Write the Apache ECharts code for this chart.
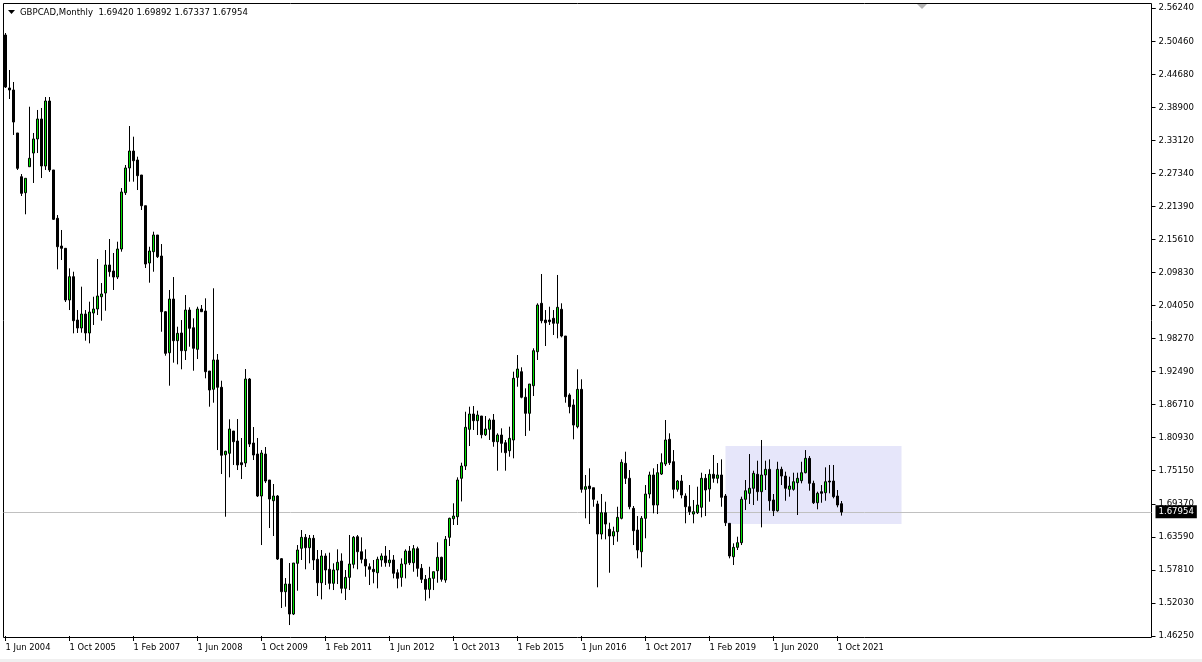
<!DOCTYPE html>
<html>
<head>
<meta charset="utf-8">
<script src="https://cdn.jsdelivr.net/npm/echarts@6/dist/echarts.min.js"></script>
<style>
html,body{margin:0;padding:0;background:#ffffff;}
#c{width:1202px;height:662px;}
</style>
</head>
<body>
<div id="c"></div>
<script>
// ---------------- DATA ----------------
const symbolTitle = 'GBPCAD,Monthly';
const lastBar = ['1.69420', '1.69892', '1.67337', '1.67954'];
const startYear = 2004;
const startMonth = 5; // June (0-based)
const totalSlots = 287; // monthly slots visible across the chart width (incl. empty future area)
const monthNames = ['Jan','Feb','Mar','Apr','May','Jun','Jul','Aug','Sep','Oct','Nov','Dec'];

const opens = [
2.5151,2.4223,2.4188,2.3435,2.2669,2.2389,2.2844,2.3084,2.3330,2.3680,
2.2857,2.3995,2.2787,2.1941,2.1455,2.1415,2.0510,2.0918,2.0159,2.0019,
2.0264,1.9932,2.0282,2.0352,2.0567,2.0632,2.1123,2.1018,2.0912,2.1403,
2.2389,2.2822,2.3119,2.2962,2.2699,2.2161,2.1158,2.1356,2.1648,2.1280,
2.0305,1.9586,2.0527,1.9797,1.9932,1.9622,2.0334,2.0024,1.9646,2.0352,
2.0317,1.9266,1.8946,1.9459,1.8981,1.7800,1.7825,1.8215,1.8040,1.7660,
1.7655,1.9126,1.8005,1.7812,1.7077,1.7812,1.7357,1.6994,1.7077,1.5979,
1.5401,1.5535,1.5010,1.5898,1.6161,1.6353,1.6171,1.6336,1.5968,1.5558,
1.6026,1.5793,1.5548,1.5781,1.5938,1.5460,1.5652,1.5881,1.6364,1.6101,
1.5968,1.5838,1.5793,1.5733,1.5956,1.6026,1.5908,1.5956,1.5733,1.5652,
1.5886,1.6113,1.5908,1.6154,1.5810,1.5618,1.5442,1.5635,1.5768,1.6003,
1.5605,1.6353,1.6679,1.6714,1.7387,1.7602,1.8245,1.8513,1.8396,1.8478,
1.8150,1.8245,1.8408,1.8028,1.8145,1.8010,1.7870,1.8058,1.9155,1.9254,
1.8806,1.8525,1.9009,1.9604,2.0452,2.0159,2.0159,2.0189,2.0102,2.0347,
1.9879,1.8846,1.8671,1.8291,1.8945,1.7194,1.7252,1.7222,1.6937,1.6411,
1.6784,1.6494,1.6376,1.6452,1.6686,1.7649,1.7387,1.6861,1.6481,1.6101,
1.6686,1.7112,1.7445,1.6919,1.7462,1.7637,1.8070,1.7678,1.7194,1.7339,
1.7077,1.6889,1.6761,1.6784,1.6879,1.7387,1.7199,1.7457,1.7387,1.7445,
1.7077,1.6598,1.6014,1.6178,1.6259,1.7019,1.7124,1.7212,1.7457,1.7152,
1.7445,1.7544,1.7007,1.6819,1.7544,1.7427,1.7194,1.7194,1.7310,1.7345,
1.7485,1.7737,1.7299,1.6959,1.7152,1.7134,1.7339,1.7339,1.7077,1.69420
];
const highs = [
2.5186,2.4538,2.4328,2.3435,2.2716,2.2641,2.3895,2.3435,2.3838,2.3873,
2.4065,2.4065,2.2787,2.1998,2.1736,2.1420,2.1065,2.1005,2.0334,2.0743,
2.0334,2.0480,2.0567,2.1228,2.0807,2.1385,2.1578,2.1333,2.1531,2.2471,
2.2874,2.3557,2.3370,2.3020,2.2699,2.2161,2.1443,2.1706,2.1648,2.1490,
2.0317,2.0685,2.0912,2.0042,2.0159,2.0597,2.0382,2.0189,2.0392,2.0422,
2.0539,1.9266,2.0715,1.9564,1.9096,1.7870,1.8420,1.8215,1.8425,1.8093,
1.9301,1.9143,1.8285,1.8093,1.7882,1.7935,1.7357,1.7287,1.7094,1.5991,
1.5640,1.5903,1.5903,1.6218,1.6481,1.6411,1.6394,1.6394,1.6131,1.6131,
1.6073,1.6084,1.5898,1.6143,1.6073,1.5781,1.6394,1.6376,1.6394,1.6353,
1.6143,1.5898,1.5956,1.6014,1.6073,1.6201,1.6131,1.6043,1.5793,1.5985,
1.6143,1.6201,1.6218,1.6189,1.5886,1.5693,1.5838,1.5751,1.6266,1.6014,
1.6376,1.6697,1.6949,1.7404,1.7660,1.8553,1.8641,1.8653,1.8571,1.8478,
1.8478,1.8437,1.8513,1.8175,1.8262,1.8058,1.8291,1.9254,1.9546,1.9331,
1.8963,1.9038,1.9664,2.0452,2.0965,2.0334,2.0392,2.0334,2.0948,2.0452,
1.9879,1.8876,1.8771,1.9296,1.9121,1.7445,1.7562,1.7222,1.6994,1.7112,
1.6977,1.6609,1.6539,1.6889,1.7720,1.7853,1.7532,1.6902,1.6726,1.6726,
1.7269,1.7503,1.7562,1.7637,1.7824,1.8408,1.8175,1.7882,1.7357,1.7445,
1.7124,1.7269,1.7007,1.7240,1.7485,1.7462,1.7544,1.7795,1.7655,1.7719,
1.7112,1.6598,1.6248,1.6364,1.7065,1.7357,1.7812,1.7520,1.7695,1.8058,
1.7695,1.7719,1.7112,1.7677,1.7590,1.7503,1.7415,1.7485,1.7485,1.7677,
1.7882,1.7777,1.7345,1.7152,1.7269,1.7579,1.7620,1.7620,1.7182,1.69892
];
const lows = [
2.4223,2.4030,2.3400,2.2787,2.2331,2.2011,2.2844,2.2559,2.3084,2.2646,
2.2787,2.2752,2.1911,2.1047,2.1210,2.0475,2.0334,1.9926,1.9932,1.9937,
1.9797,1.9751,2.0072,2.0247,2.0147,2.0322,2.0918,2.0685,2.0877,2.1356,
2.2349,2.2582,2.2582,2.2436,2.2086,2.1070,2.0813,2.1005,2.1245,1.9954,
1.9534,1.9009,1.9412,1.9383,1.9296,1.9459,1.9692,1.9271,1.9476,2.0299,
1.9138,1.8641,1.8711,1.7882,1.7462,1.6714,1.7404,1.7620,1.7532,1.7374,
1.7585,1.7935,1.7707,1.7059,1.6218,1.7304,1.6516,1.6376,1.5956,1.5115,
1.5138,1.4817,1.4992,1.5418,1.5956,1.5793,1.5898,1.5781,1.5325,1.5267,
1.5518,1.5442,1.5430,1.5535,1.5372,1.5255,1.5430,1.5810,1.5793,1.5898,
1.5663,1.5518,1.5548,1.5460,1.5838,1.5838,1.5838,1.5635,1.5460,1.5488,
1.5635,1.5868,1.5751,1.5663,1.5553,1.5243,1.5285,1.5430,1.5558,1.5576,
1.5558,1.6201,1.6569,1.6569,1.6982,1.7532,1.7952,1.8233,1.8145,1.8087,
1.8128,1.8058,1.7940,1.7520,1.7835,1.7520,1.7765,1.7737,1.8991,1.8788,
1.8128,1.8220,1.8828,1.9459,2.0102,1.9704,2.0072,1.9897,1.9839,1.9856,
1.8711,1.8525,1.8070,1.8262,1.7135,1.6686,1.6586,1.6889,1.5478,1.6318,
1.6318,1.5733,1.6218,1.6277,1.6668,1.7287,1.6844,1.6218,1.5985,1.5828,
1.6336,1.7036,1.6774,1.6761,1.7445,1.7602,1.7620,1.7036,1.7152,1.7036,
1.6599,1.6744,1.6599,1.6761,1.6703,1.6726,1.6977,1.7310,1.7299,1.6889,
1.6551,1.5985,1.5868,1.6131,1.6218,1.6831,1.6937,1.6919,1.6994,1.6528,
1.7182,1.6819,1.6726,1.6802,1.7269,1.6994,1.7065,1.7170,1.6744,1.7299,
1.7474,1.7170,1.6937,1.6844,1.6959,1.6994,1.7124,1.7036,1.6879,1.67337
];
const closes = [
2.4240,2.4188,2.3627,2.2816,2.2378,2.2641,2.2992,2.3330,2.3680,2.2857,
2.3995,2.2787,2.1923,2.1443,2.1415,2.0510,2.0918,2.0147,2.0019,2.0264,
1.9932,2.0299,2.0352,2.0580,2.0615,2.1123,2.1005,2.0912,2.1403,2.2401,
2.2822,2.3119,2.2949,2.2687,2.2161,2.1140,2.1368,2.1648,2.1268,2.0305,
1.9576,2.0527,1.9797,1.9926,1.9622,2.0334,2.0014,1.9664,2.0352,2.0305,
1.9254,1.8933,1.9459,1.8981,1.7790,1.7860,1.8250,1.8028,1.7620,1.7625,
1.9126,1.7987,1.7795,1.7077,1.7830,1.7339,1.7024,1.7077,1.5973,1.5401,
1.5535,1.5010,1.5903,1.6131,1.6353,1.6171,1.6336,1.5956,1.5558,1.6026,
1.5781,1.5548,1.5781,1.5916,1.5460,1.5652,1.5886,1.6353,1.6101,1.5968,
1.5851,1.5793,1.5751,1.5968,1.6026,1.5908,1.5956,1.5723,1.5635,1.5886,
1.6113,1.5908,1.6154,1.5810,1.5618,1.5442,1.5635,1.5751,1.6003,1.5618,
1.6318,1.6686,1.6726,1.7357,1.7602,1.8280,1.8513,1.8396,1.8495,1.8150,
1.8250,1.8408,1.8028,1.8145,1.7999,1.7835,1.8087,1.9138,1.9301,1.8806,
1.8525,1.9038,1.9622,2.0422,2.0147,2.0112,2.0130,2.0102,2.0382,1.9879,
1.8816,1.8641,1.8320,1.8945,1.7194,1.7240,1.7205,1.7019,1.6411,1.6784,
1.6586,1.6376,1.6452,1.6703,1.7667,1.7387,1.6889,1.6469,1.6131,1.6686,
1.7112,1.7445,1.6919,1.7485,1.7660,1.8058,1.7660,1.7194,1.7339,1.7094,
1.6889,1.6802,1.6802,1.6919,1.7387,1.7182,1.7457,1.7387,1.7445,1.7054,
1.6609,1.6026,1.6178,1.6259,1.7019,1.7169,1.7212,1.7474,1.7152,1.7445,
1.7544,1.6994,1.6819,1.7544,1.7427,1.7212,1.7252,1.7327,1.7387,1.7485,
1.7737,1.7299,1.6959,1.7124,1.7124,1.7327,1.7322,1.7065,1.6919,1.67954
];

const priceTicks = ['1.46250','1.52030','1.57810','1.63590','1.69370','1.75150','1.80930','1.86710','1.92490','1.98270',
                    '2.04050','2.09830','2.15610','2.21390','2.27340','2.33120','2.38900','2.44680','2.50460','2.56240'];
const priceMin = 1.46250;
const priceMax = 2.56240;
const lastPrice = 1.67954;

// shaded rectangle (time slots and price bounds)
const boxFromSlot = 180;
const boxToSlot = 224;
const boxHigh = 1.7952;
const boxLow = 1.6586;

// ---------------- BUILD ----------------
const nData = opens.length;
const categories = [];
for (let i = 0; i < totalSlots; i++) {
  const m = startMonth + i;
  categories.push('1 ' + monthNames[m % 12] + ' ' + (startYear + Math.floor(m / 12)));
}
const candles = opens.map((o, i) => [o, closes[i], lows[i], highs[i]]);
const yInterval = (priceMax - priceMin) / (priceTicks.length - 1);
const FONT = '"DejaVu Sans Condensed", "Liberation Sans", sans-serif';
const showLabel = (i) => i % 16 === 0 && i < nData;

const chart = echarts.init(document.getElementById('c'), null, { renderer: 'canvas' });
const option = {
  animation: false,
  backgroundColor: '#ffffff',
  grid: { left: 3.5, top: 8, width: 1148, height: 628, containLabel: false },
  xAxis: {
    type: 'category',
    data: categories,
    boundaryGap: true,
    axisLine: { show: false },
    axisTick: { show: true, alignWithLabel: true, interval: showLabel, length: 5, lineStyle: { color: '#000', width: 1 } },
    axisLabel: { show: true, interval: showLabel, align: 'left', margin: 7, color: '#000', fontFamily: FONT, fontSize: 9.3 },
    splitLine: { show: false }
  },
  yAxis: {
    type: 'value',
    position: 'right',
    min: priceMin,
    max: priceMax,
    interval: yInterval,
    axisLine: { show: false },
    axisTick: { show: true, length: 4, lineStyle: { color: '#000', width: 1 } },
    axisLabel: {
      show: true, align: 'left', margin: 7, color: '#000', fontFamily: FONT, fontSize: 9.5,
      formatter: (v, idx) => idx < priceTicks.length ? priceTicks[Math.round((v - priceMin) / yInterval)] : ''
    },
    splitLine: { show: false }
  },
  series: [
    {
      type: 'candlestick',
      name: symbolTitle,
      data: candles,
      barWidth: 2,
      z: 3,
      itemStyle: {
        color: '#00e000', color0: '#000000',
        borderColor: '#000000', borderColor0: '#000000', borderWidth: 1
      },
      markArea: {
        silent: true, z: 1,
        itemStyle: { color: '#e6e6fa', borderWidth: 0 },
        label: { show: false },
        data: [[
          { xAxis: categories[boxFromSlot], yAxis: boxHigh },
          { xAxis: categories[boxToSlot], yAxis: boxLow }
        ]]
      },
      markLine: {
        silent: true, z: 2,
        symbol: ['none', 'none'],
        lineStyle: { color: '#c0c0c0', type: 'solid', width: 1 },
        label: {
          show: true, position: 'end', distance: 4,
          formatter: () => lastBar[3],
          color: '#ffffff', backgroundColor: '#000000', padding: [2, 3, 1, 3],
          fontFamily: FONT, fontSize: 9.5
        },
        data: [{ yAxis: lastPrice }]
      }
    }
  ],
  graphic: [
    { type: 'rect', silent: true, shape: { x: 3.5, y: 3.5, width: 1148, height: 634 },
      style: { fill: null, stroke: '#000', lineWidth: 1 } },
    { type: 'polygon', silent: true, shape: { points: [[8, 10], [15, 10], [11.5, 14]] }, style: { fill: '#000' } },
    { type: 'text', silent: true, x: 20, y: 13,
      style: { text: symbolTitle + '  ' + lastBar.join(' '), fill: '#000', font: '9.5px ' + FONT, align: 'left', verticalAlign: 'middle' } },
    { type: 'polygon', silent: true, shape: { points: [[917, 4], [927, 4], [922, 9]] }, style: { fill: '#b4b4b4' } },
    { type: 'rect', silent: true, shape: { x: 0, y: 659, width: 1202, height: 3 }, style: { fill: '#f0f0f0' } }
  ]
};
chart.setOption(option);
</script>
</body>
</html>
